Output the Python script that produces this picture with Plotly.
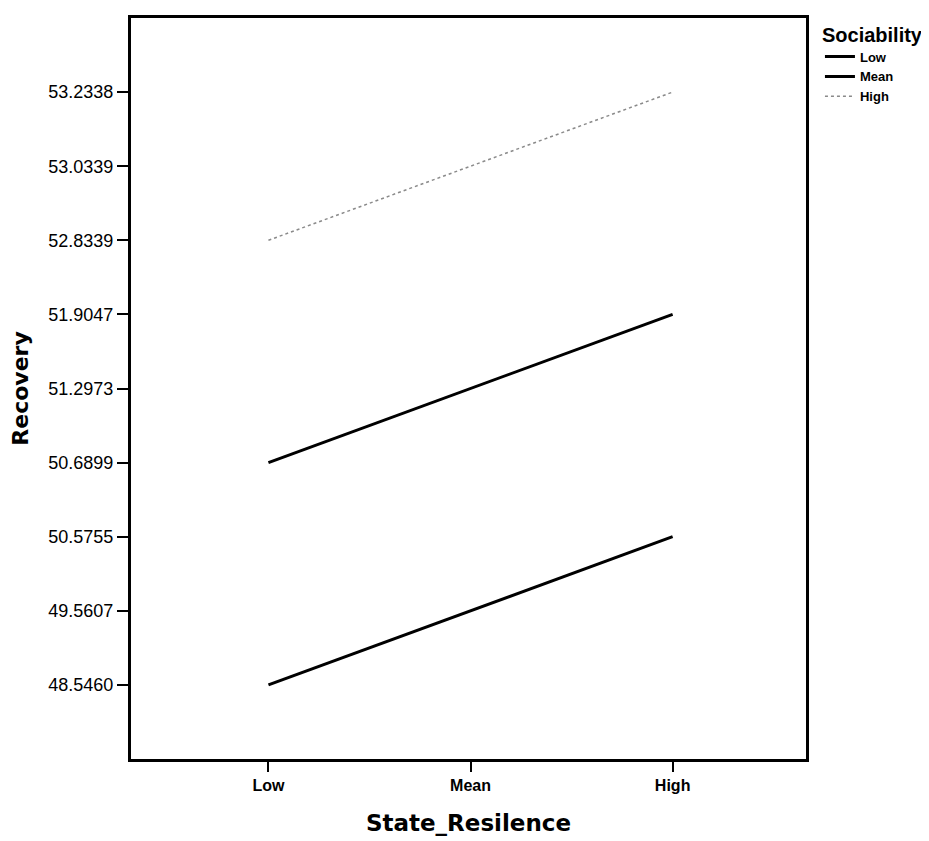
import plotly.graph_objects as go

# Data
state_levels = ["Low", "Mean", "High"]
sociability_levels = ["Low", "Mean", "High"]
recovery_low = [48.5460, 49.5607, 50.5755]
recovery_mean = [50.6899, 51.2973, 51.9047]
recovery_high = [52.8339, 53.0339, 53.2338]
y_tick_values = [48.5460, 49.5607, 50.5755, 50.6899, 51.2973,
                 51.9047, 52.8339, 53.0339, 53.2338]


def fmt(v):
    return f"{v:.4f}"


y_categories = [fmt(v) for v in y_tick_values]

series = [
    (sociability_levels[0], recovery_low, dict(color="black", width=3)),
    (sociability_levels[1], recovery_mean, dict(color="black", width=3)),
    (sociability_levels[2], recovery_high, dict(color="#8a8a8a", width=1.5, dash="dot")),
]

fig = go.Figure()
for name, vals, line in series:
    fig.add_trace(go.Scatter(
        x=state_levels,
        y=[fmt(v) for v in vals],
        mode="lines",
        name=name,
        line=line,
    ))

fig.update_layout(
    width=929,
    height=841,
    margin=dict(l=123, r=131, t=7, b=90),
    paper_bgcolor="white",
    plot_bgcolor="white",
    font=dict(family="Liberation Sans, Arial, sans-serif", color="black"),
    showlegend=True,
    legend=dict(
        xref="container", yref="container",
        x=0.874, y=0.991, xanchor="left", yanchor="top",
        title=dict(text="<b>Sociability</b>", font=dict(size=20)),
        font=dict(size=13, family="Liberation Sans, Arial, sans-serif", weight="bold"),
        tracegroupgap=0,
        itemwidth=30,
        bgcolor="rgba(0,0,0,0)",
    ),
)

fig.update_xaxes(
    type="category",
    categoryorder="array",
    categoryarray=state_levels,
    range=[-0.68, 2.66],
    showgrid=False,
    zeroline=False,
    showline=True, linecolor="black", linewidth=3, mirror=True,
    ticks="outside", ticklen=10, tickwidth=2, tickcolor="black",
    tickfont=dict(size=16, weight="bold"),
    title=dict(text="State_Resilence", standoff=22,
               font=dict(size=23, family="DejaVu Sans", weight="bold")),
)

fig.update_yaxes(
    type="category",
    categoryorder="array",
    categoryarray=y_categories,
    range=[-1.0, 9.0],
    showgrid=False,
    zeroline=False,
    showline=True, linecolor="black", linewidth=3, mirror=True,
    ticks="outside", ticklen=11, tickwidth=2, tickcolor="black",
    tickfont=dict(size=18),
    title=dict(text="Recovery", standoff=18,
               font=dict(size=22, family="DejaVu Sans", weight="bold")),
)

fig.write_html("out.html")
